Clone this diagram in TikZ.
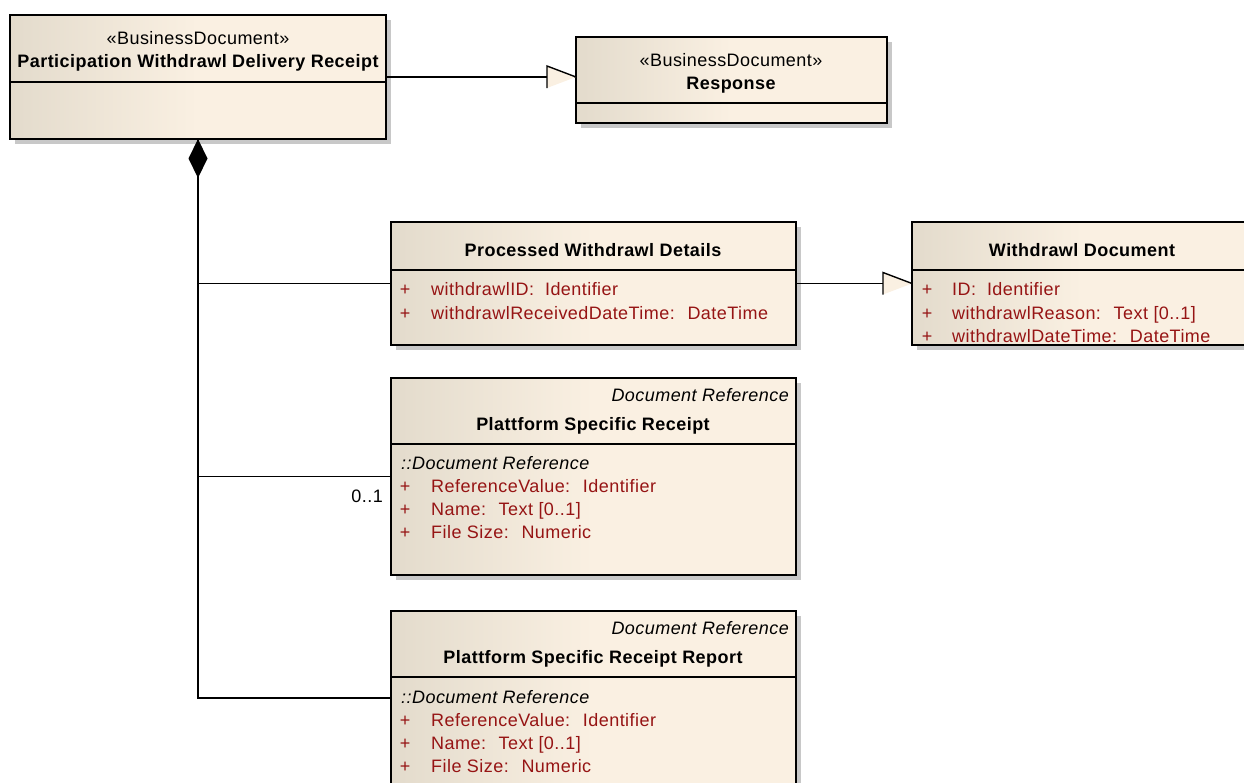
\documentclass[tikz,border=0pt]{standalone}
\usepackage{fontspec}
\setmainfont{Liberation Sans}[LetterSpace=2.5]
\usepackage{tikz}
\usetikzlibrary{arrows.meta,positioning,calc,shadows}
\usepackage{xcolor}
\definecolor{boxleft}{RGB}{227,219,204}
\definecolor{boxright}{RGB}{250,240,226}
\definecolor{attrred}{RGB}{150,20,20}
\definecolor{shadowgray}{RGB}{200,200,200}
\newcommand{\umlfont}{\fontsize{18}{21}\selectfont}
% open generalisation head, tip at #1
\newcommand{\gentip}[1]{%
  \fill[boxright] (#1) -- ++(-29,-11) -- ++(0,22) -- cycle;
  \draw[line width=1.4pt] (#1) -- ++(-29,-11) -- ++(0,22);}

\begin{document}
\begin{tikzpicture}[x=1pt,y=-1pt,
    classbox/.style={draw,line width=1.4pt,anchor=north west,inner sep=0pt,outer sep=0pt,
      left color=boxleft,right color=boxright,middle color=boxright,
      drop shadow={shadow xshift=5pt,shadow yshift=-5pt,fill=shadowgray,opacity=1}},
    stereo/.style={anchor=base,inner sep=0pt,font=\umlfont},
    cname/.style={anchor=base,inner sep=0pt,font=\umlfont\bfseries},
    plus/.style={anchor=base,inner sep=0pt,text=attrred,font=\umlfont},
    attr/.style={anchor=base west,inner sep=0pt,text=attrred,font=\umlfont},
    tagged/.style={anchor=base east,inner sep=0pt,font=\umlfont\itshape},
    scopenote/.style={anchor=base west,inner sep=0pt,font=\umlfont\itshape},
    conn/.style={line width=1.6pt}]
  \useasboundingbox (0,0) rectangle (1244,782);

  % class boxes
  \node[classbox,minimum width=376pt,minimum height=124pt] (pwdr) at (10,15) {};
  \node[classbox,minimum width=311pt,minimum height=86pt] (resp) at (576,37) {};
  \node[classbox,minimum width=405pt,minimum height=123pt] (pwd) at (391,222) {};
  \node[classbox,minimum width=340pt,minimum height=123pt] (wdoc) at (912,222) {};
  \node[classbox,minimum width=405pt,minimum height=197pt] (psr) at (391,378) {};
  \node[classbox,minimum width=405pt,minimum height=174pt] (psrr) at (391,611) {};

  % compartment lines
  \draw[line width=1.4pt] ($(pwdr.north west)+(0,67)$) -- ($(pwdr.north east)+(0,67)$);
  \draw[line width=1.4pt] ($(resp.north west)+(0,66)$) -- ($(resp.north east)+(0,66)$);
  \draw[line width=1.4pt] ($(pwd.north west)+(0,48)$) -- ($(pwd.north east)+(0,48)$);
  \draw[line width=1.4pt] ($(wdoc.north west)+(0,48)$) -- ($(wdoc.north east)+(0,48)$);
  \draw[line width=1.4pt] ($(psr.north west)+(0,66)$) -- ($(psr.north east)+(0,66)$);
  \draw[line width=1.4pt] ($(psrr.north west)+(0,66)$) -- ($(psrr.north east)+(0,66)$);

  % headers
  \node[stereo] (pwdr-st) at (198,44) {«BusinessDocument»};
  \node[cname] (pwdr-nm) at (198,67) {Participation Withdrawl Delivery Receipt};
  \node[stereo] (resp-st) at (731,66) {«BusinessDocument»};
  \node[cname] (resp-nm) at (731,89) {Response};
  \node[cname] (pwd-nm) at (593,256) {Processed Withdrawl Details};
  \node[cname] (wdoc-nm) at (1082,256) {Withdrawl Document};
  \node[tagged] (psr-tg) at (789,401) {Document Reference};
  \node[cname] (psr-nm) at (593,430) {Plattform Specific Receipt};
  \node[tagged] (psrr-tg) at (789,634) {Document Reference};
  \node[cname] (psrr-nm) at (593,663) {Plattform Specific Receipt Report};

  % attributes
  \foreach \t [count=\i] in {withdrawlID:~ Identifier,withdrawlReceivedDateTime:~ DateTime}{
    \node[plus] (pwd-p\i) at (405,271+24*\i) {+};
    \node[attr] (pwd-a\i) at (431,271+24*\i) {\t};
  }
  \foreach \t [count=\i] in {ID:~ Identifier,withdrawlReason:~ Text [0..1],withdrawlDateTime:~ DateTime}{
    \node[plus] (wdoc-p\i) at (927,272+23.5*\i) {+};
    \node[attr] (wdoc-a\i) at (952,272+23.5*\i) {\t};
  }
  \node[scopenote] (psr-sc) at (401,469) {::Document Reference};
  \node[scopenote] (psrr-sc) at (401,703) {::Document Reference};
  \foreach \t [count=\i] in {ReferenceValue:~ Identifier,Name:~ Text [0..1],File Size:~ Numeric}{
    \node[plus] (psr-p\i) at (405,469+23.3*\i) {+};
    \node[attr] (psr-a\i) at (431,469+23.3*\i) {\t};
    \node[plus] (psrr-p\i) at (405,703+23.3*\i) {+};
    \node[attr] (psrr-a\i) at (431,703+23.3*\i) {\t};
  }

  % composition
  \draw[conn,{Diamond[length=39pt,width=19pt]}-] (pwdr.south) |- (pwd.west);
  \draw[conn] (pwdr.south) |- (psr.west);
  \draw[conn] (pwdr.south) |- (psrr.west);
  \node[anchor=base east,inner sep=0pt,font=\umlfont] (mult) at ($(psr.west)+(-8,26)$) {0..1};

  % generalisations
  \draw[conn] (pwdr.east) -- (pwdr.east -| resp.west) coordinate (tip1);
  \gentip{tip1}
  \draw[conn] (pwd.east) -- (pwd.east -| wdoc.west) coordinate (tip2);
  \gentip{tip2}
\end{tikzpicture}
\end{document}
